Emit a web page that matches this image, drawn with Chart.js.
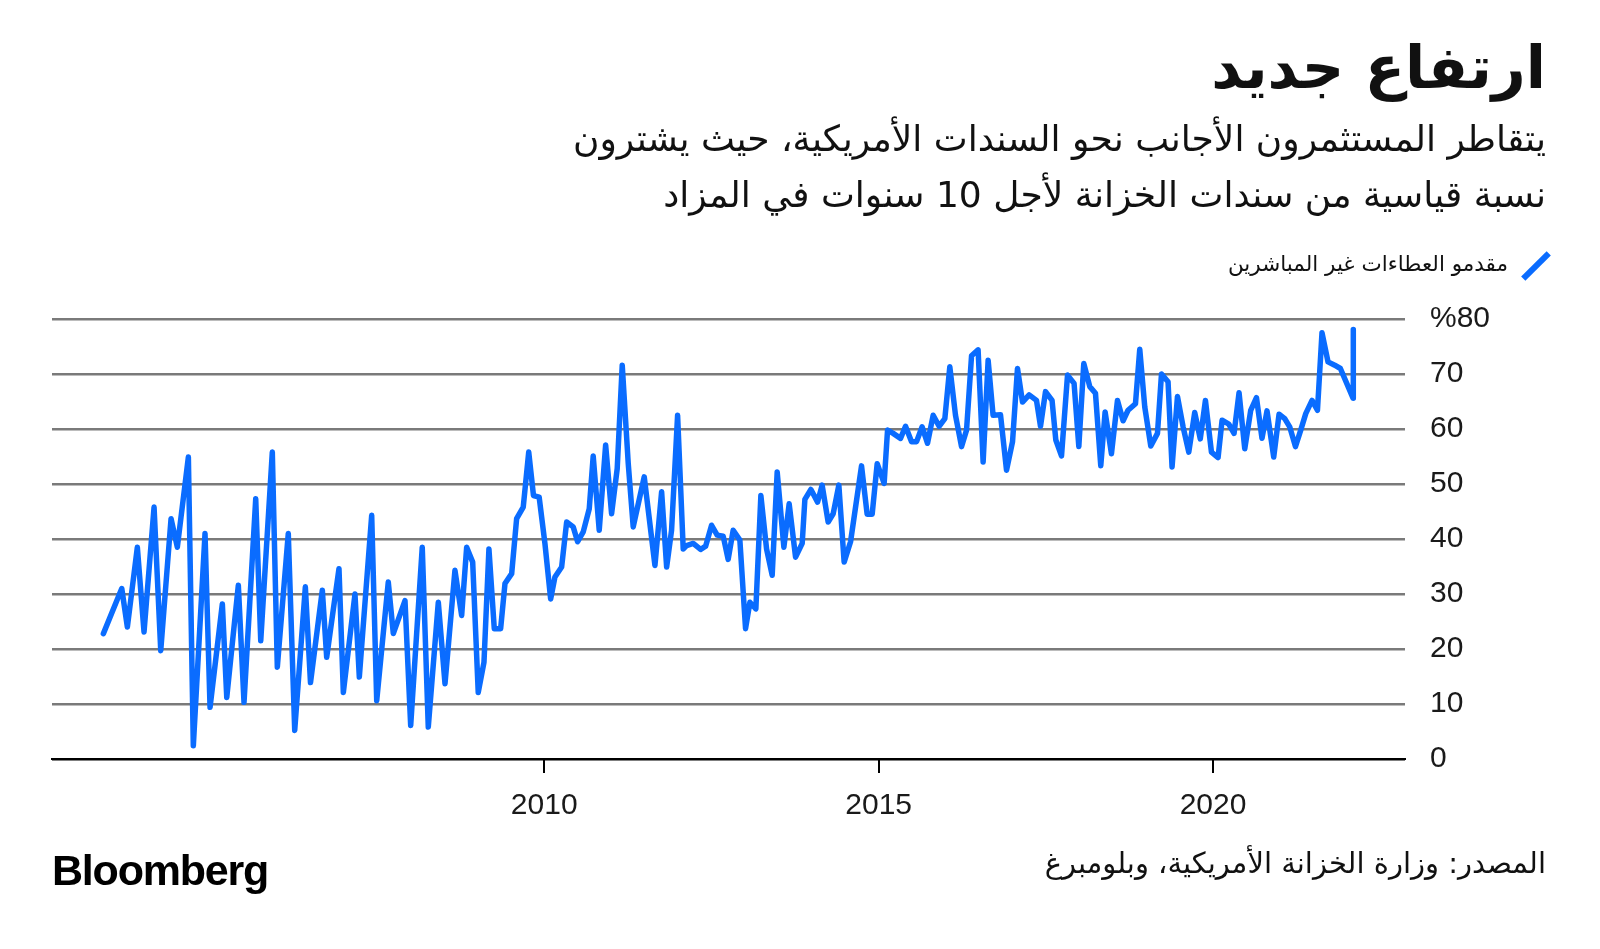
<!DOCTYPE html>
<html lang="ar">
<head>
<meta charset="utf-8">
<script src="https://cdn.jsdelivr.net/npm/chart.js@4"></script>
<style>
  html,body{margin:0;padding:0;background:#fff;}
  #page{position:relative;width:1600px;height:949px;overflow:hidden;background:#fff;}
  .ar{position:absolute;right:54px;direction:rtl;text-align:right;font-family:"DejaVu Sans",sans-serif;color:#111;white-space:nowrap;}
  #title{top:33px;font-size:59px;font-weight:bold;}
  #sub1{top:118px;font-size:36px;}
  #sub2{top:174px;font-size:36px;}
  #legTxt{top:251px;right:92px;font-size:21.5px;}
  #legSwatch{position:absolute;left:1518px;top:263px;width:36px;height:6px;background:#0a6cff;transform:rotate(-45deg);}
  #source{top:846px;font-size:29px;}
  #logo{position:absolute;left:52px;top:846px;font-family:"Liberation Sans",Arial,sans-serif;font-weight:bold;font-size:43px;letter-spacing:-1.2px;color:#000;}
  #chartWrap{position:absolute;left:0;top:0;width:1600px;height:949px;}
</style>
</head>
<body>
<div id="page">
  <div id="chartWrap"><canvas id="auctionChart" width="1600" height="949"></canvas></div>
  <div class="ar" id="title">ارتفاع جديد</div>
  <div class="ar" id="sub1">يتقاطر المستثمرون الأجانب نحو السندات الأمريكية، حيث يشترون</div>
  <div class="ar" id="sub2">نسبة قياسية من سندات الخزانة لأجل 10 سنوات في المزاد</div>
  <div id="legSwatch"></div>
  <div class="ar" id="legTxt">مقدمو العطاءات غير المباشرين</div>
  <div class="ar" id="source">المصدر: وزارة الخزانة الأمريكية، وبلومبرغ</div>
  <div id="logo">Bloomberg</div>
</div>
<script>
// 10-year note auctions: date (decimal year) and indirect bidders' share (%)
const auctionDates = [
  2003.408,2003.683,2003.767,2003.916,2004.016,2004.166,2004.266,2004.420,2004.514,2004.679,
  2004.753,2004.928,2005.003,2005.187,2005.253,2005.426,2005.511,2005.686,2005.761,2005.934,
  2006.009,2006.173,2006.269,2006.428,2006.505,2006.682,2006.747,2006.931,2006.996,2007.170,
  2007.235,2007.420,2007.495,2007.668,2007.743,2007.918,2008.003,2008.176,2008.266,2008.416,
  2008.516,2008.665,2008.765,2008.840,2008.930,2009.013,2009.099,2009.173,2009.253,2009.348,
  2009.413,2009.513,2009.587,2009.686,2009.768,2009.839,2009.924,2010.010,2010.096,2010.160,
  2010.260,2010.335,2010.433,2010.499,2010.583,2010.673,2010.732,2010.822,2010.918,2011.007,
  2011.091,2011.166,2011.256,2011.330,2011.495,2011.655,2011.755,2011.830,2011.904,2011.994,
  2012.078,2012.129,2012.227,2012.338,2012.413,2012.502,2012.586,2012.676,2012.750,2012.825,
  2012.925,2013.010,2013.075,2013.164,2013.239,2013.324,2013.408,2013.483,2013.583,2013.662,
  2013.758,2013.857,2013.897,2013.987,2014.087,2014.155,2014.245,2014.320,2014.405,2014.484,
  2014.580,2014.744,2014.828,2014.903,2014.978,2015.082,2015.133,2015.217,2015.327,2015.402,
  2015.492,2015.567,2015.650,2015.731,2015.815,2015.904,2015.990,2016.064,2016.149,2016.239,
  2016.314,2016.389,2016.487,2016.562,2016.637,2016.711,2016.822,2016.912,2017.002,2017.076,
  2017.151,2017.250,2017.360,2017.420,2017.495,2017.593,2017.649,2017.734,2017.824,2017.922,
  2017.993,2018.067,2018.157,2018.242,2018.321,2018.386,2018.481,2018.571,2018.655,2018.729,
  2018.840,2018.904,2018.979,2019.069,2019.169,2019.229,2019.327,2019.387,2019.468,2019.552,
  2019.637,2019.726,2019.809,2019.886,2019.976,2020.075,2020.135,2020.235,2020.314,2020.389,
  2020.474,2020.563,2020.649,2020.732,2020.807,2020.907,2020.987,2021.072,2021.146,2021.232,
  2021.311,2021.386,2021.480,2021.561,2021.629,2021.719,2021.819,2021.904,2022.093,2022.097
];
const indirectShare = [
  22.8,31.0,24.0,38.5,23.1,45.8,19.7,43.7,38.5,54.9,
  2.4,41.0,9.4,28.2,11.2,31.6,10.3,47.3,21.5,55.8,
  16.7,41.0,5.2,31.3,13.9,30.7,18.5,34.6,12.1,30.0,
  14.9,44.3,10.6,32.2,22.8,28.8,6.1,38.5,5.8,28.5,
  13.7,34.3,26.1,38.5,35.8,12.1,17.6,38.2,23.7,23.7,
  31.9,33.7,43.7,45.8,55.8,47.9,47.6,39.2,29.1,33.1,
  34.9,43.1,42.2,39.5,41.3,45.5,55.1,41.6,57.1,44.6,
  52.8,71.6,53.7,42.2,51.3,35.2,48.6,34.9,41.6,62.5,
  38.2,38.8,39.2,38.1,38.7,42.5,40.7,40.5,36.3,41.6,
  39.8,23.7,28.5,27.3,47.9,38.2,33.4,52.2,38.5,46.4,
  36.7,39.2,47.2,49.0,46.7,49.8,43.1,44.6,49.8,35.8,
  39.5,53.3,44.5,44.5,53.7,50.1,59.8,59.2,58.3,60.5,
  57.7,57.7,60.4,57.4,62.5,60.5,61.9,71.3,62.5,56.8,
  59.8,73.3,74.4,54.0,72.5,62.5,62.6,52.5,57.7,71.0,
  64.9,66.2,65.2,60.5,66.8,65.2,58.0,55.1,69.8,68.3,
  56.8,71.9,67.7,66.5,53.3,63.1,55.5,65.2,61.5,63.4,
  64.6,74.5,64.0,56.9,59.2,70.0,68.6,53.1,65.9,60.4,
  55.8,63.0,58.2,65.2,55.8,54.8,61.6,60.9,59.2,66.6,
  56.4,63.4,65.7,58.3,63.3,54.9,62.7,61.9,60.4,56.8,
  59.8,62.8,65.2,63.4,77.5,72.2,71.6,71.0,65.6,78.1
];
const xTickYears = [2010, 2015, 2020];
const yMin = 0, yMax = 80, yStep = 10;

const lineBlue = '#0a6cff';
const gridGray = '#7a7a7a';
const numFont = {family:'Liberation Sans', size:30};

const points = auctionDates.map((d,i)=>({x:d, y:indirectShare[i]}));

const ctx = document.getElementById('auctionChart').getContext('2d');
const chart = new Chart(ctx,{
  type:'line',
  data:{datasets:[{
    data:points,
    borderColor:lineBlue,
    borderWidth:5.5,
    borderJoinStyle:'round',
    borderCapStyle:'round',
    pointRadius:0,
    tension:0,
    fill:false
  }]},
  options:{
    responsive:false,
    animation:false,
    layout:{padding:{left:52,right:55,top:319,bottom:130}},
    plugins:{legend:{display:false},tooltip:{enabled:false}},
    scales:{
      x:{
        type:'linear',
        min:2002.64, max:2022.87,
        afterFit:s=>{ s.height=60; },
        afterBuildTicks:s=>{ s.ticks = xTickYears.map(v=>({value:v})); },
        grid:{drawOnChartArea:false,drawTicks:true,tickLength:14,color:'#000',lineWidth:2},
        border:{display:true,color:'#000',width:2},
        ticks:{padding:15,color:'#1a1a1a',font:numFont,maxRotation:0,autoSkip:false,callback:v=>String(v)}
      },
      y:{
        position:'right',
        min:yMin, max:yMax,
        afterFit:s=>{ s.width=140; },
        ticks:{stepSize:yStep,padding:25,color:'#1a1a1a',font:numFont,callback:v=>v===yMax?'%'+v:String(v)},
        grid:{drawTicks:false,lineWidth:2.5,color:c=>c.tick && c.tick.value===0?'#000':gridGray},
        border:{display:false}
      }
    }
  }
});
</script>
</body>
</html>
